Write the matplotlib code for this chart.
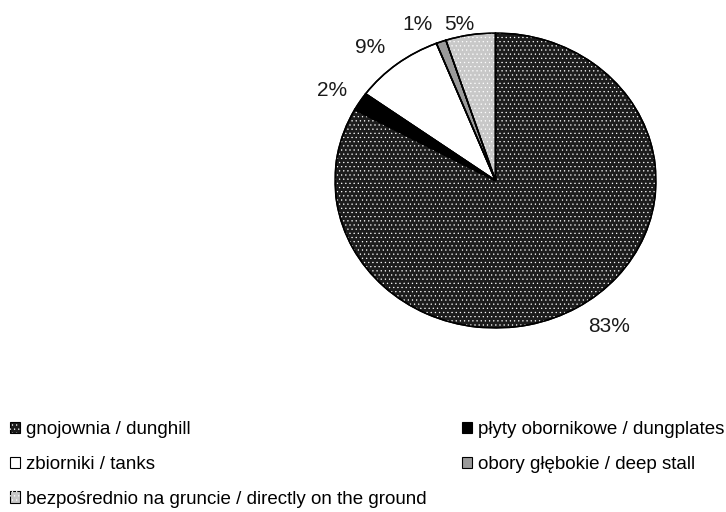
import matplotlib

matplotlib.use("Agg")
import matplotlib.pyplot as plt  # noqa: E402
from matplotlib.patches import Patch, Wedge  # noqa: E402

# share of manure storage type
categories = [
    "gnojownia / dunghill",
    "płyty obornikowe / dungplates",
    "zbiorniki / tanks",
    "obory głębokie / deep stall",
    "bezpośrednio na gruncie / directly on the ground",
]
shares = [83, 2, 9, 1, 5]
pct_labels = ["83%", "2%", "9%", "1%", "5%"]

fills = ["#1c1c1c", "#000000", "#ffffff", "#9a9a9a", "#c8c8c8"]
dotted = [True, False, False, False, True]
# where each percentage label sits, in pie units
label_pos = [(0.707, -0.993), (-1.019, 0.607), (-0.782, 0.905), (-0.483, 1.061), (-0.227, 1.061)]

plt.rcParams["font.family"] = ["Liberation Sans", "DejaVu Sans"]
plt.rcParams["hatch.color"] = "white"
plt.rcParams["hatch.linewidth"] = 0.4
FS = 13.5
FS_PCT = 15

fig = plt.figure(figsize=(7.26, 5.12), dpi=100)
ax = fig.add_axes([335 / 726, 1 - 328 / 512, 321 / 726, 295 / 512])

wedges, _ = ax.pie(
    shares,
    colors=fills,
    startangle=90,
    counterclock=False,
    wedgeprops=dict(edgecolor="black", linewidth=1.1),
)
ax.set_aspect("auto")
ax.set_xlim(-1, 1)
ax.set_ylim(-1, 1)

# dotted texture on top of the grey fills
for w, dots in zip(wedges, dotted):
    if dots:
        ax.add_patch(Wedge(w.center, w.r, w.theta1, w.theta2, facecolor="none", hatch="...."))
for w in wedges:
    ax.add_patch(Wedge(w.center, w.r, w.theta1, w.theta2, facecolor="none", edgecolor="black", linewidth=1.1))

for text, (x, y) in zip(pct_labels, label_pos):
    ax.text(x, y, text, ha="center", va="center", fontsize=FS_PCT, color="#1a1a1a")


def handle(i):
    base = Patch(facecolor=fills[i], edgecolor="black", linewidth=0.8)
    if dotted[i]:
        return (base, Patch(facecolor="none", hatch="...."))
    return base


legend_kw = dict(
    loc="upper left",
    frameon=False,
    fontsize=FS,
    handlelength=0.55,
    handleheight=0.55,
    handletextpad=0.3,
    borderpad=0,
    borderaxespad=0,
    labelspacing=0.95,
)
left_idx = [0, 2, 4]
right_idx = [1, 3]
fig.legend(
    [handle(i) for i in left_idx],
    [categories[i] for i in left_idx],
    bbox_to_anchor=(10 / 726, 1 - 421 / 512),
    **legend_kw,
)
fig.legend(
    [handle(i) for i in right_idx],
    [categories[i] for i in right_idx],
    bbox_to_anchor=(462 / 726, 1 - 421 / 512),
    **legend_kw,
)

fig.savefig("out.png", dpi=100)
